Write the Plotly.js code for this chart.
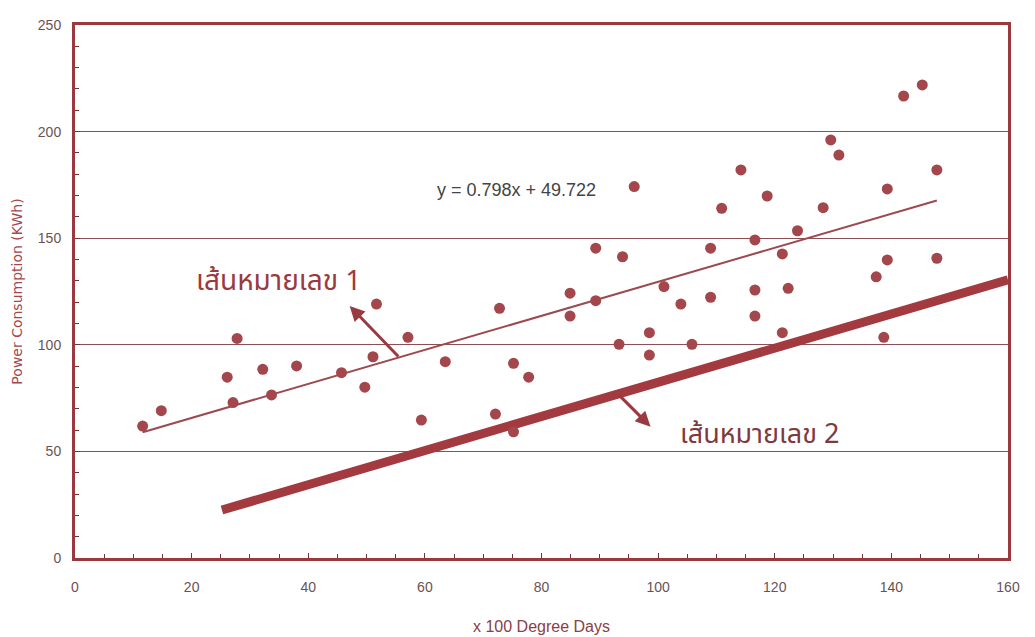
<!DOCTYPE html>
<html>
<head>
<meta charset="utf-8">
<script src="https://cdn.plot.ly/plotly-3.0.1.min.js"></script>
<style>html,body{margin:0;padding:0;background:#fff;}#chart{width:1035px;height:637px;}</style>
</head>
<body>
<div id="chart"></div>
<script>
// Observed data (x = hundreds of degree days, y = power consumption kWh)
const degreeDays = [11.6, 14.8, 26.1, 27.1, 27.8, 32.2, 33.7, 38.0, 45.7, 49.7, 51.1, 51.7, 57.1, 59.4, 63.5,
  72.1, 72.8, 75.2, 75.2, 77.8, 84.9, 84.9, 89.3, 89.3, 93.3, 93.9, 95.9, 98.5, 98.5, 101.0, 103.9, 105.8,
  109.0, 109.0, 110.9, 114.2, 116.6, 116.6, 116.6, 118.7, 121.3, 121.3, 122.3, 123.9, 128.3, 129.6, 131.0,
  137.4, 138.7, 139.3, 139.3, 142.1, 145.3, 147.8, 147.8];
const consumption = [61.9, 69.1, 84.8, 72.9, 103.0, 88.5, 76.5, 90.1, 86.9, 80.1, 94.4, 119.1, 103.5, 64.7, 92.1,
  67.5, 117.1, 59.2, 91.3, 84.8, 124.2, 113.5, 145.3, 120.7, 100.2, 141.3, 174.2, 105.7, 95.2, 127.3, 119.1, 100.2,
  145.3, 122.3, 164.0, 182.0, 149.2, 125.7, 113.5, 169.8, 142.6, 105.7, 126.5, 153.5, 164.3, 196.1, 189.0,
  131.9, 103.5, 173.1, 139.8, 216.7, 221.9, 182.0, 140.6];
// Trend line 1 (y = 0.798x + 49.722), endpoints as drawn
const line1X = [11.6, 147.8];
const line1Y = [59.0, 167.7];
// Line 2 endpoints as drawn
const line2X = [25.2, 160];
const line2Y = [22.5, 130.5];
// Tick labels
const xTicks = [0, 20, 40, 60, 80, 100, 120, 140, 160];
const yTicks = [0, 50, 100, 150, 200, 250];
const eqText = 'y = 0.798x + 49.722';
const label1 = 'เส้นหมายเลข 1';
const label2 = 'เส้นหมายเลข 2';
const xTitle = 'x 100 Degree Days';
const yTitle = 'Power Consumption (KWh)';

const dark = '#9a3a40';
const sans = '"Liberation Sans", Arial, sans-serif';
const thai = '"Noto Sans Thai", "Noto Sans", sans-serif';

const traces = [
  {x: line2X, y: line2Y, mode: 'lines', line: {color: '#a23a40', width: 9}, hoverinfo: 'skip'},
  {x: line1X, y: line1Y, mode: 'lines', line: {color: '#9c4a50', width: 2}, hoverinfo: 'skip'},
  {x: degreeDays, y: consumption, mode: 'markers', marker: {color: '#a4474d', size: 11}}
];

const layout = {
  width: 1035, height: 637,
  margin: {l: 75, r: 27, t: 25, b: 79},
  paper_bgcolor: '#ffffff', plot_bgcolor: '#ffffff',
  showlegend: false,
  xaxis: {
    range: [0, 160], tickvals: xTicks, ticktext: xTicks.map(String),
    showgrid: false, zeroline: false,
    showline: true, mirror: true, linecolor: dark, linewidth: 3,
    ticks: 'inside', ticklen: 5, tickcolor: '#7a3035', tickwidth: 1,
    minor: {dtick: 5, tick0: 0, ticks: 'inside', ticklen: 4, tickcolor: '#7a3035', showgrid: false},
    ticklabelstandoff: 14,
    tickfont: {family: sans, size: 14, color: '#6a5254'},
    title: {text: xTitle, font: {family: sans, size: 16, color: '#8a4046'}, standoff: 28}
  },
  yaxis: {
    range: [0, 250], tickvals: yTicks, ticktext: yTicks.map(String),
    showgrid: true, gridcolor: '#8a5055', gridwidth: 1.3, zeroline: false,
    showline: true, mirror: true, linecolor: dark, linewidth: 3,
    ticks: 'inside', ticklen: 5, tickcolor: '#7a3035', tickwidth: 1,
    minor: {dtick: 10, tick0: 0, ticks: 'inside', ticklen: 4, tickcolor: '#7a3035', showgrid: false},
    ticklabelstandoff: 8,
    tickfont: {family: sans, size: 14, color: '#6a5254'},
    title: {text: yTitle, font: {family: '"DejaVu Sans", sans-serif', size: 14, color: '#a4474d'}, standoff: 12}
  },
  annotations: [
    {x: 75.7, y: 172.6, xref: 'x', yref: 'y', text: eqText, showarrow: false,
     font: {family: sans, size: 18, color: '#444444'}},
    {x: 34.9, y: 129.5, xref: 'x', yref: 'y', text: label1, showarrow: false,
     font: {family: thai, size: 28, color: '#9a3a40'}},
    {x: 117.3, y: 57.7, xref: 'x', yref: 'y', text: label2, showarrow: false,
     font: {family: thai, size: 27, color: '#7e3a3f'}},
    {x: 47.1, y: 118.2, ax: 55.7, ay: 93.8, xref: 'x', yref: 'y', axref: 'x', ayref: 'y',
     text: '', showarrow: true, arrowhead: 2, arrowsize: 1, arrowwidth: 3, arrowcolor: '#9a3a40'},
    {x: 98.7, y: 61.6, ax: 93.0, ay: 77.2, xref: 'x', yref: 'y', axref: 'x', ayref: 'y',
     text: '', showarrow: true, arrowhead: 2, arrowsize: 1, arrowwidth: 3, arrowcolor: '#9a3a40'}
  ]
};

Plotly.newPlot('chart', traces, layout, {staticPlot: true, displayModeBar: false});
</script>
</body>
</html>
